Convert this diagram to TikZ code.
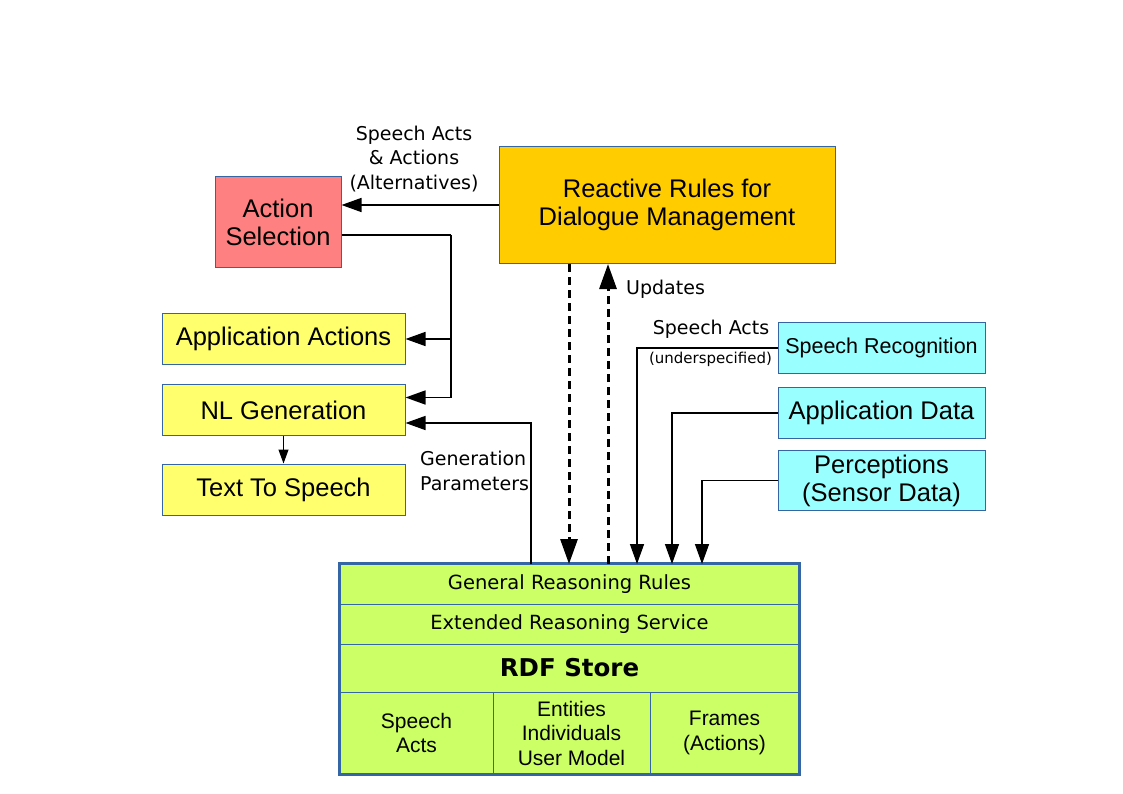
\documentclass[tikz,border=0pt]{standalone}
\usepackage{fontspec}
\setmainfont{Liberation Sans}
\newfontfamily\dvsans{DejaVu Sans}
\usetikzlibrary{arrows.meta,positioning}
\definecolor{edge}{HTML}{3465A4}
\definecolor{salmon}{HTML}{FF8080}
\definecolor{gold}{HTML}{FFCC00}
\definecolor{lemon}{HTML}{FFFF6D}
\definecolor{aqua}{HTML}{99FFFF}
\definecolor{lime}{HTML}{CCFF66}

\begin{document}
\begin{tikzpicture}[x=1pt, y=-1pt, >={Triangle[length=20pt,width=14pt]},
  box/.style = {draw=edge, line width=1pt, align=center, inner sep=0pt, font=\fontsize{25.5}{28}\selectfont},
  cell/.style = {draw=edge, line width=1pt, fill=lime, align=center, inner sep=0pt, font=\dvsans\fontsize{19.5}{24.5}\selectfont},
  lbl/.style = {align=center, inner sep=0pt, font=\dvsans\fontsize{19}{24.5}\selectfont},
  wire/.style = {line width=1.5pt},
  dashline/.style = {line width=3pt, dash pattern=on 8pt off 5pt, >={Triangle[length=25pt,width=17pt]}}]
\useasboundingbox (0,0) rectangle (1123,794);

% controller boxes
\node[box, fill=gold, minimum width=336, minimum height=117] (rr) at (667,205) {Reactive Rules for\\Dialogue Management};
\node[box, fill=salmon, minimum width=126, minimum height=91] (as) at (278,222) {Action\\Selection};

% output side
\node[box, fill=lemon, minimum width=243, minimum height=51] (aa) at (283.5,339) {Application Actions};
\node[box, fill=lemon, minimum width=243, minimum height=51] (nl) at (283.5,410) {NL Generation};
\node[box, fill=lemon, minimum width=243, minimum height=51] (tts) at (283.5,489.5) {Text To Speech};

% input side
\node[box, fill=aqua, minimum width=207, minimum height=51, font=\fontsize{21.5}{25}\selectfont] (sr) at (881.5,348) {Speech Recognition};
\node[box, fill=aqua, minimum width=207, minimum height=51] (ad) at (881.5,413) {Application Data};
\node[box, fill=aqua, minimum width=207, minimum height=60] (pc) at (881.5,480.5) {Perceptions\\(Sensor Data)};

% knowledge base
\node[cell, minimum width=459, minimum height=40] (grr) at (569.5,584) {General Reasoning Rules};
\node[cell, minimum width=459, minimum height=40] (ers) at (569.5,624) {Extended Reasoning Service};
\node[cell, minimum width=459, minimum height=48, font=\dvsans\bfseries\fontsize{24.5}{28}\selectfont] (rdf) at (569.5,668) {RDF Store};
\node[cell, minimum width=153, minimum height=82, font=\fontsize{21}{24.5}\selectfont] (sa) at (416.5,733) {Speech\\Acts};
\node[cell, minimum width=157, minimum height=82, font=\fontsize{21}{24.5}\selectfont] (en) at (571.5,733) {Entities\\Individuals\\User Model};
\node[cell, minimum width=149, minimum height=82, font=\fontsize{21}{24.5}\selectfont] (fr) at (724.5,733) {Frames\\(Actions)};
\draw[edge, line width=3pt] (grr.north west) rectangle (fr.south east);

\coordinate (bus) at (451,235);
\coordinate (gp) at (531,564);
\coordinate (dn) at (569,564);
\coordinate (up) at (608,564);
\coordinate (in1) at (637,564);
\coordinate (in2) at (672,564);
\coordinate (in3) at (702,564);

\draw[wire, ->] (rr.west) -- (rr.west -| as.east);
\draw[wire] ([yshift=-13]as.east) -- (bus);
\draw[wire, ->] (bus) |- ([yshift=12.5]nl.east);
\draw[wire, ->] (bus |- aa.east) -- (aa.east);
\draw[wire, ->] (gp) |- ([yshift=-13]nl.east);
\draw[line width=1pt, ->, >={Triangle[length=14pt,width=10pt]}] (nl.south) -- (tts.north);
\draw[dashline, ->] (rr.south -| dn) -- (dn);
\draw[dashline, ->] (up) -- (rr.south -| up);
\draw[wire, ->] (sr.west) -| (in1);
\draw[wire, ->] (ad.west) -| (in2);
\draw[wire, ->] (pc.west) -| (in3);

% labels
\node[lbl] (l1) at (414,159) {Speech Acts\\\& Actions\\(Alternatives)};
\node[lbl, anchor=west] (l2) at (626,289) {Updates};
\node[lbl] (l3) at (711,329) {Speech Acts};
\node[lbl, font=\dvsans\fontsize{15}{17}\selectfont] (l4) at (710.5,359) {(underspecified)};
\node[lbl, anchor=west, align=left] (l5) at (420,471) {Generation\\Parameters};
\end{tikzpicture}
\end{document}
